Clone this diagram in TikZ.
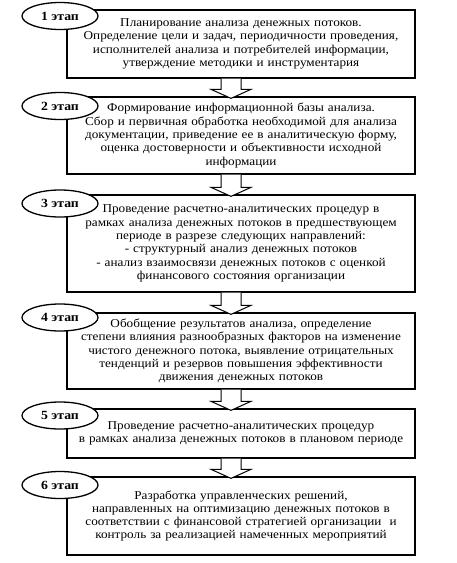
\documentclass[tikz,border=0pt]{standalone}
\usepackage{fontspec}
\setmainfont[FakeStretch=1.1]{Liberation Serif}
\usepackage{tikz}
\usetikzlibrary{shapes.geometric,calc}

\tikzset{
  stagebox/.style={draw, line width=1.3pt, minimum width=348pt, text width=344pt,
    align=center, font=\fontsize{12}{13.3}\selectfont, inner sep=0pt},
  stagetag/.style={draw, ellipse, fill=white, line width=1.3pt, minimum width=76pt,
    minimum height=27pt, inner sep=0pt, font=\bfseries\fontsize{12.5}{13}\selectfont},
  blockarrow/.style={draw, fill=white, line width=1pt, line join=miter}
}

\begin{document}
\begin{tikzpicture}[x=1pt,y=-1pt]
\useasboundingbox (0,0) rectangle (457,563);

\node[stagebox, minimum height=68pt] (s1) at (241,44) {Планирование анализа денежных потоков.\\
        Определение цели и задач, периодичности проведения,\\
        исполнителей анализа и потребителей информации,\\
        утверждение методики и инструментария};
\node[stagebox, minimum height=77pt] (s2) at (241,135.5) {Формирование информационной базы анализа.\\
        Сбор и первичная обработка необходимой для анализа\\
        документации, приведение ее в аналитическую форму,\\
        оценка достоверности и объективности исходной\\
        информации};
\node[stagebox, minimum height=97pt] (s3) at (241,243.5) {Проведение расчетно-аналитических процедур в\\
        рамках анализа денежных потоков в предшествующем\\
        периоде в разрезе следующих направлений:\\
        - структурный анализ денежных потоков\\
        - анализ взаимосвязи денежных потоков с оценкой\\
        финансового состояния организации};
\node[stagebox, minimum height=76pt] (s4) at (241,351) {Обобщение результатов анализа, определение\\
        степени влияния разнообразных факторов на изменение\\
        чистого денежного потока, выявление отрицательных\\
        тенденций и резервов повышения эффективности\\
        движения денежных потоков};
\node[stagebox, minimum height=49pt] (s5) at (241,433.5) {Проведение расчетно-аналитических процедур\\
        в рамках анализа денежных потоков в плановом периоде};
\node[stagebox, minimum height=78pt] (s6) at (241,516) {Разработка управленческих решений,\\
        направленных на оптимизацию денежных потоков в\\
        соответствии с финансовой стратегией организации\ \ и\\
        контроль за реализацией намеченных мероприятий};

% arrows between stages
\foreach \a/\b in {s1/s2,s2/s3,s3/s4,s4/s5,s5/s6}
  \draw[blockarrow] ($(\a.south)+(-20,0)$) -- ($(\b.north)+(-20,-7)$)
        -- ($(\b.north)+(-30,-7)$) -- ($(\b.north)+(-10,2)$)
        -- ($(\b.north)+(10,-7)$) -- ($(\b.north)+(0,-7)$)
        -- ($(\a.south)+(0,0)$);

% stage tags
\node[stagetag] (e1) at (60,16) {1 этап};
\node[stagetag] (e2) at (60,106) {2 этап};
\node[stagetag] (e3) at (60,203.5) {3 этап};
\node[stagetag] (e4) at (60,317.5) {4 этап};
\node[stagetag] (e5) at (60,415.5) {5 этап};
\node[stagetag] (e6) at (60,485) {6 этап};
\end{tikzpicture}
\end{document}
